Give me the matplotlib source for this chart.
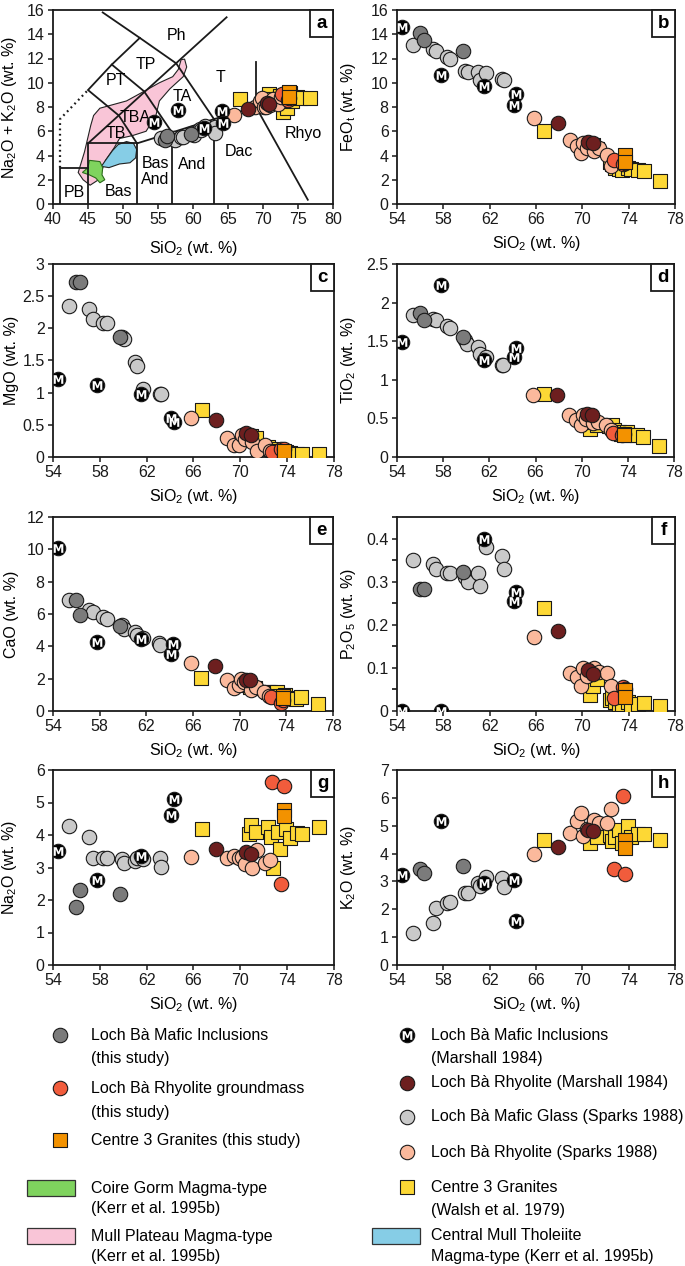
import matplotlib
matplotlib.use("Agg")
import matplotlib.pyplot as plt
from matplotlib.patches import Polygon, Rectangle
from matplotlib.ticker import FuncFormatter, MultipleLocator

plt.rcParams['font.family'] = ['Liberation Sans', 'DejaVu Sans']
plt.rcParams['mathtext.default'] = 'regular'

# ---------------- data ----------------
# Loch Ba Mafic Inclusions (this study)
lbmi_SiO2 = [56.0, 56.3, 59.7]
lbmi_FeOt = [14.1, 13.5, 12.6]
lbmi_MgO = [2.72, 2.72, 1.87]
lbmi_TiO2 = [1.87, 1.78, 1.55]
lbmi_CaO = [6.86, 5.93, 5.25]
lbmi_P2O5 = [0.283, 0.283, 0.323]
lbmi_Na2O = [1.8, 2.3, 2.2]
lbmi_K2O = [3.45, 3.3, 3.55]

# Loch Ba Rhyolite groundmass (this study)
gm_SiO2 = [72.7, 73.5, 73.7]
gm_FeOt = [3.65, 3.3, 3.4]
gm_MgO = [0.08, 0.13, 0.12]
gm_TiO2 = [0.31, 0.28, 0.30]
gm_CaO = [0.88, 0.47, 0.70]
gm_P2O5 = [0.031, 0.055, 0.050]
gm_Na2O = [5.64, 2.48, 5.50]
gm_K2O = [3.43, 6.06, 3.25]

# Centre 3 Granites (this study)
c3_SiO2 = [73.7, 73.7]
c3_FeOt = [4.05, 3.45]
c3_MgO = [0.08, 0.09]
c3_TiO2 = [0.30, 0.28]
c3_CaO = [0.90, 0.80]
c3_P2O5 = [0.048, 0.032]
c3_Na2O = [4.77, 4.60]
c3_K2O = [4.49, 4.21]

# Loch Ba Mafic Inclusions (Marshall 1984)
mm_SiO2 = [54.4, 57.8, 61.5, 64.1, 64.3]
mm_FeOt = [14.6, 10.6, 9.75, 8.2, 9.1]
mm_MgO = [1.22, 1.12, 0.98, 0.60, 0.54]
mm_TiO2 = [1.49, 2.23, 1.26, 1.30, 1.41]
mm_CaO = [10.1, 4.24, 4.45, 3.55, 4.15]
mm_P2O5 = [0.0, 0.0, 0.40, 0.255, 0.275]
mm_Na2O = [3.52, 2.62, 3.35, 4.62, 5.10]
mm_K2O = [3.23, 5.17, 2.95, 3.05, 1.58]

# Loch Ba Rhyolite (Marshall 1984)
mr_SiO2 = [67.9, 70.5, 70.9]
mr_FeOt = [6.7, 5.1, 5.0]
mr_MgO = [0.58, 0.38, 0.34]
mr_TiO2 = [0.80, 0.555, 0.54]
mr_CaO = [2.8, 1.91, 1.91]
mr_P2O5 = [0.186, 0.094, 0.085]
mr_Na2O = [3.57, 3.49, 3.42]
mr_K2O = [4.25, 4.84, 4.82]

# Loch Ba Mafic Glass (Sparks 1988)
sg_SiO2 = [55.4, 57.1, 57.4, 58.3, 58.6, 59.9, 60.1, 61.0, 61.2, 61.7, 63.1, 63.2]
sg_FeOt = [13.1, 12.8, 12.6, 12.1, 12.0, 11.0, 10.85, 10.9, 10.2, 10.8, 10.3, 10.2]
sg_MgO = [2.35, 2.30, 2.15, 2.08, 2.08, 1.86, 1.83, 1.48, 1.42, 1.05, 0.98, 0.98]
sg_TiO2 = [1.84, 1.79, 1.78, 1.70, 1.67, 1.52, 1.47, 1.42, 1.33, 1.30, 1.19, 1.19]
sg_CaO = [6.86, 6.24, 6.10, 5.83, 5.70, 5.30, 5.10, 4.90, 4.70, 4.50, 4.18, 4.10]
sg_P2O5 = [0.35, 0.34, 0.33, 0.32, 0.32, 0.31, 0.30, 0.32, 0.29, 0.38, 0.36, 0.33]
sg_Na2O = [4.28, 3.95, 3.28, 3.28, 3.28, 3.25, 3.13, 3.20, 3.30, 3.25, 3.28, 3.03]
sg_K2O = [1.16, 1.52, 2.03, 2.21, 2.27, 2.60, 2.57, 2.95, 2.83, 3.17, 3.11, 2.81]

# Loch Ba Rhyolite (Sparks 1988)
sr_SiO2 = [65.8, 68.9, 69.5, 69.9, 70.1, 70.4, 71.0, 71.4, 72.1, 72.5]
sr_FeOt = [7.1, 5.25, 4.75, 4.2, 5.0, 4.6, 4.35, 4.6, 4.05, 3.1]
sr_MgO = [0.60, 0.29, 0.18, 0.18, 0.34, 0.28, 0.23, 0.10, 0.18, 0.10]
sr_TiO2 = [0.80, 0.55, 0.48, 0.42, 0.55, 0.49, 0.44, 0.45, 0.42, 0.35]
sr_CaO = [2.94, 1.91, 1.40, 1.60, 2.00, 1.80, 1.30, 1.50, 1.20, 0.90]
sr_P2O5 = [0.171, 0.089, 0.079, 0.059, 0.100, 0.082, 0.100, 0.090, 0.089, 0.059]
sr_Na2O = [3.31, 3.28, 3.35, 3.28, 3.33, 3.10, 3.00, 3.54, 3.13, 3.23]
sr_K2O = [4.00, 4.75, 5.18, 5.44, 4.63, 4.90, 5.20, 5.10, 5.10, 5.60]

# Centre 3 Granites (Walsh et al. 1979)
w_SiO2 = [66.7, 70.7, 70.9, 71.3, 72.4, 72.6, 72.8, 73.2, 73.4, 73.9, 74.2, 74.8, 75.3, 76.7]
w_FeOt = [6.0, 4.75, 4.9, 4.5, 3.5, 3.3, 3.0, 2.9, 2.83, 2.97, 2.9, 2.78, 2.7, 1.87]
w_MgO = [0.73, 0.30, 0.32, 0.29, 0.15, 0.12, 0.10, 0.08, 0.08, 0.07, 0.06, 0.05, 0.05, 0.04]
w_TiO2 = [0.815, 0.36, 0.45, 0.42, 0.40, 0.41, 0.35, 0.32, 0.30, 0.33, 0.28, 0.28, 0.26, 0.143]
w_CaO = [2.02, 1.60, 1.50, 1.40, 1.20, 1.19, 1.10, 1.15, 0.90, 1.00, 0.80, 0.74, 0.88, 0.43]
w_P2O5 = [0.239, 0.036, 0.059, 0.075, 0.025, 0.030, 0.020, 0.017, 0.017, 0.020, 0.015, 0.017, 0.018, 0.011]
w_Na2O = [4.20, 4.03, 4.30, 4.10, 4.26, 3.93, 2.97, 4.10, 3.56, 4.20, 3.90, 4.07, 4.03, 4.26]
w_K2O = [4.49, 4.37, 4.78, 4.58, 4.67, 4.46, 4.60, 4.84, 4.39, 4.99, 4.60, 4.72, 4.70, 4.49]

# Magma-type fields on TAS (SiO2, Na2O+K2O)
mull_plateau_field = [(43.6, 2.6), (44.5, 4.3), (45.4, 6.5), (45.8, 7.3), (46.7, 7.9), (48.6, 8.2),
                      (50.5, 8.5), (52.4, 9.1), (55.2, 10.0), (57.1, 10.5), (57.9, 11.1), (58.3, 11.9),
                      (58.8, 11.95), (59.1, 11.3), (58.6, 10.5), (56.7, 9.5), (55.2, 8.5), (54.7, 7.3),
                      (53.3, 6.0), (51.4, 5.65), (49.5, 5.4), (48.7, 4.6), (47.5, 3.6), (46.5, 2.0),
                      (45.3, 1.55), (44.3, 2.0)]
central_mull_field = [(46.9, 3.1), (47.5, 3.6), (48.5, 4.4), (49.3, 4.9), (50.5, 5.15), (51.5, 5.0),
                      (51.95, 4.5), (51.8, 3.8), (51.0, 3.4), (49.5, 3.3), (48.0, 3.0)]
coire_gorm_field = [(45.2, 3.6), (46.7, 3.5), (47.1, 3.0), (47.0, 2.4), (47.4, 2.0), (46.7, 1.75),
                    (46.1, 2.15), (45.2, 2.4), (44.2, 2.6), (45.0, 3.0)]

# TAS classification boundaries
tas_solid = [
    [(41, 0), (41, 3), (45, 3)],
    [(45, 0), (45, 5), (52, 5), (52, 0)],
    [(52, 5), (57, 5.9), (57, 0)],
    [(57, 5.9), (63, 7), (63, 0)],
    [(63, 7), (69, 8)],
    [(69, 8), (76.4, 0.35)],
    [(69, 8), (69, 11.7)],
    [(45, 5), (64.8, 15.4)],
    [(52, 5), (49.4, 7.3), (45, 9.4), (48.4, 11.5), (53, 9.3), (57, 5.9)],
    [(48.4, 11.5), (52.4, 13.7), (57.6, 11.6), (63, 7)],
    [(47.1, 15.8), (52.4, 13.7)],
]
tas_dotted = [(41, 3), (41, 7), (45, 9.4)]
tas_labels = [("Ph", 57.6, 13.9), ("TP", 53.3, 11.5), ("PT", 49.0, 10.2), ("TA", 58.5, 8.9),
              ("T", 64.0, 10.45), ("TBA", 51.7, 7.15), ("TB", 49.0, 5.85), ("Bas\nAnd", 54.6, 2.7),
              ("And", 59.9, 3.25), ("Dac", 66.6, 4.3), ("Rhyo", 75.7, 5.85), ("PB", 43.1, 0.95),
              ("Bas", 49.3, 1.05)]

# ---------------- styles ----------------
S = 108
EDGE = '#1a1a1a'
series = [
    dict(name='walsh', marker='s', fc='#fdd835', z=3,
         d=dict(SiO2=w_SiO2, FeOt=w_FeOt, MgO=w_MgO, TiO2=w_TiO2, CaO=w_CaO, P2O5=w_P2O5, Na2O=w_Na2O, K2O=w_K2O)),
    dict(name='sr', marker='o', fc='#fbb99c', z=4,
         d=dict(SiO2=sr_SiO2, FeOt=sr_FeOt, MgO=sr_MgO, TiO2=sr_TiO2, CaO=sr_CaO, P2O5=sr_P2O5, Na2O=sr_Na2O, K2O=sr_K2O)),
    dict(name='sg', marker='o', fc='#c9c9c9', z=4,
         d=dict(SiO2=sg_SiO2, FeOt=sg_FeOt, MgO=sg_MgO, TiO2=sg_TiO2, CaO=sg_CaO, P2O5=sg_P2O5, Na2O=sg_Na2O, K2O=sg_K2O)),
    dict(name='mr', marker='o', fc='#6d1f1f', z=5,
         d=dict(SiO2=mr_SiO2, FeOt=mr_FeOt, MgO=mr_MgO, TiO2=mr_TiO2, CaO=mr_CaO, P2O5=mr_P2O5, Na2O=mr_Na2O, K2O=mr_K2O)),
    dict(name='mm', marker='M', fc='#000000', z=6,
         d=dict(SiO2=mm_SiO2, FeOt=mm_FeOt, MgO=mm_MgO, TiO2=mm_TiO2, CaO=mm_CaO, P2O5=mm_P2O5, Na2O=mm_Na2O, K2O=mm_K2O)),
    dict(name='lbmi', marker='o', fc='#7b7b7b', z=6.5,
         d=dict(SiO2=lbmi_SiO2, FeOt=lbmi_FeOt, MgO=lbmi_MgO, TiO2=lbmi_TiO2, CaO=lbmi_CaO, P2O5=lbmi_P2O5, Na2O=lbmi_Na2O, K2O=lbmi_K2O)),
    dict(name='gm', marker='o', fc='#f15c3c', z=7,
         d=dict(SiO2=gm_SiO2, FeOt=gm_FeOt, MgO=gm_MgO, TiO2=gm_TiO2, CaO=gm_CaO, P2O5=gm_P2O5, Na2O=gm_Na2O, K2O=gm_K2O)),
    dict(name='c3', marker='s', fc='#f39200', z=8,
         d=dict(SiO2=c3_SiO2, FeOt=c3_FeOt, MgO=c3_MgO, TiO2=c3_TiO2, CaO=c3_CaO, P2O5=c3_P2O5, Na2O=c3_Na2O, K2O=c3_K2O)),
]


def draw_points(ax, x, y, marker, fc, z, clip=True):
    if marker == 'M':
        ax.scatter(x, y, s=S, marker='o', c=fc, edgecolors=EDGE, linewidths=0.8, zorder=z, clip_on=clip)
        ax.scatter(x, y, s=48, marker='$\\mathbf{M}$', c='white', linewidths=0, zorder=z + 0.1, clip_on=clip)
    else:
        ax.scatter(x, y, s=S, marker=marker, c=fc, edgecolors=EDGE, linewidths=0.8, zorder=z, clip_on=clip)


# ---------------- figure ----------------
W, H = 685, 1266
fig = plt.figure(figsize=(W / 100, H / 100), dpi=100)


def axrect(l, t, r, b):
    return [l / W, 1 - b / H, (r - l) / W, (b - t) / H]


FS = 11.5
ax_a = fig.add_axes(axrect(53, 10, 333, 204))
panels = [
    ('b', 'FeOt', axrect(397, 10, 675, 204), 16, 2, 'FeO$_t$ (wt. %)', None),
    ('c', 'MgO', axrect(53, 264, 334, 457), 3, 0.5, 'MgO (wt. %)', None),
    ('d', 'TiO2', axrect(397, 264, 674, 457), 2.5, 0.5, 'TiO$_2$ (wt. %)', None),
    ('e', 'CaO', axrect(53, 517, 333, 711), 12, 2, 'CaO (wt. %)', None),
    ('f', 'P2O5', axrect(397, 517, 675, 711), 0.45, 0.1, 'P$_2$O$_5$ (wt. %)', 0.05),
    ('g', 'Na2O', axrect(53, 770, 334, 965), 6, 1, 'Na$_2$O (wt. %)', None),
    ('h', 'K2O', axrect(397, 770, 675, 965), 7, 1, 'K$_2$O (wt. %)', None),
]

fmt = FuncFormatter(lambda v, p: ('%g' % round(v, 3)))


def style_axes(ax, left_col, xlab_gap):
    for sp in ax.spines.values():
        sp.set_linewidth(1.3)
        sp.set_color('#1a1a1a')
    ax.tick_params(direction='out', length=3.5, width=1.1, labelsize=FS, pad=2.5, colors='#1a1a1a')
    ax.tick_params(which='minor', direction='out', length=3.5, width=1.1)
    bb = ax.get_position()
    hpx = bb.height * H
    wpx = bb.width * W
    ax.xaxis.set_label_coords(0.5, -(xlab_gap) / hpx)
    if left_col:
        ax.yaxis.set_label_coords((19 - bb.x0 * W) / wpx, 0.5)
    else:
        ax.yaxis.set_label_coords((358 - bb.x0 * W) / wpx, 0.5)


def panel_label(ax, letter):
    bb = ax.get_position()
    w = 23 / (bb.width * W)
    h = 27 / (bb.height * H)
    ax.add_patch(Rectangle((1 - w, 1 - h), w, h, transform=ax.transAxes, facecolor='white',
                           edgecolor='#1a1a1a', lw=1.3, zorder=20, clip_on=False))
    ax.text(1 - w / 2, 1 - h / 2, letter, transform=ax.transAxes, ha='center', va='center',
            fontsize=13.5, fontweight='bold', zorder=21)


# ---- panel a : TAS ----
ax = ax_a
ax.add_patch(Polygon(mull_plateau_field, closed=True, facecolor='#f9c5d7', edgecolor='#222222', lw=0.8, zorder=1))
ax.add_patch(Polygon(central_mull_field, closed=True, facecolor='#86cde6', edgecolor='#222222', lw=0.8, zorder=1.2))
ax.add_patch(Polygon(coire_gorm_field, closed=True, facecolor='#7fd35e', edgecolor='#2a6a1a', lw=0.8, zorder=1.3))
for line in tas_solid:
    xs, ys = zip(*line)
    ax.plot(xs, ys, color='#1a1a1a', lw=1.3, zorder=2, solid_joinstyle='miter')
xs, ys = zip(*tas_dotted)
ax.plot(xs, ys, color='#1a1a1a', lw=1.6, ls=(0, (0.8, 1.6)), zorder=2)
for t, x, y in tas_labels:
    ax.text(x, y, t, ha='center', va='center', fontsize=FS, zorder=2.5, linespacing=1.05)
for sr in series:
    d = sr['d']
    alk = [n + k for n, k in zip(d['Na2O'], d['K2O'])]
    draw_points(ax, d['SiO2'], alk, sr['marker'], sr['fc'], sr['z'])
ax.set_xlim(40, 80)
ax.set_ylim(0, 16)
ax.set_xticks(range(40, 81, 5))
ax.set_yticks(range(0, 17, 2))
ax.set_xlabel('SiO$_2$ (wt. %)', fontsize=FS)
ax.set_ylabel('Na$_2$O + K$_2$O (wt. %)', fontsize=FS)
style_axes(ax, True, 35)
panel_label(ax, 'a')

# ---- panels b-h ----
for letter, key, rect, ymax, ystep, ylab, minor in panels:
    ax = fig.add_axes(rect)
    for sr in series:
        d = sr['d']
        draw_points(ax, d['SiO2'], d[key], sr['marker'], sr['fc'], sr['z'])
    ax.set_xlim(54, 78)
    ax.set_ylim(0, ymax)
    ax.set_xticks(range(54, 79, 4))
    ax.yaxis.set_major_locator(MultipleLocator(ystep))
    if minor:
        ax.yaxis.set_minor_locator(MultipleLocator(minor))
    ax.yaxis.set_major_formatter(fmt)
    ax.set_xlabel('SiO$_2$ (wt. %)', fontsize=FS)
    ax.set_ylabel(ylab, fontsize=FS)
    left = rect[0] < 0.3
    style_axes(ax, left, 30)
    panel_label(ax, letter)

# ---------------- legend ----------------
lg = fig.add_axes([0, 0, 1, 1], zorder=30)
lg.set_xlim(0, W)
lg.set_ylim(H, 0)
lg.axis('off')
lg.patch.set_alpha(0)

legend_points = [
    ('o', '#7b7b7b', 60, 1035, ['Loch Bà Mafic Inclusions', '(this study)']),
    ('o', '#f15c3c', 60, 1088, ['Loch Bà Rhyolite groundmass', '(this study)']),
    ('s', '#f39200', 60, 1140, ['Centre 3 Granites (this study)']),
    ('M', '#000000', 407, 1035, ['Loch Bà Mafic Inclusions', '(Marshall 1984)']),
    ('o', '#6d1f1f', 407, 1083, ['Loch Bà Rhyolite (Marshall 1984)']),
    ('o', '#c9c9c9', 407, 1117, ['Loch Bà Mafic Glass (Sparks 1988)']),
    ('o', '#fbb99c', 407, 1152, ['Loch Bà Rhyolite (Sparks 1988)']),
    ('s', '#fdd835', 407, 1187, ['Centre 3 Granites', '(Walsh et al. 1979)']),
]
for mk, fc, x, y, lines in legend_points:
    draw_points(lg, [x], [y], mk, fc, 31, clip=False)
    for i, t in enumerate(lines):
        lg.text(x + 31 if x < 200 else x + 24, y + i * 24, t, ha='left', va='center', fontsize=FS)

legend_fields = [
    ('#7fd35e', 27, 1188, ['Coire Gorm Magma-type', '(Kerr et al. 1995b)'], 91),
    ('#f9c5d7', 27, 1236, ['Mull Plateau Magma-type', '(Kerr et al. 1995b)'], 91),
    ('#86cde6', 372, 1236, ['Central Mull Tholeiite', 'Magma-type (Kerr et al. 1995b)'], 431),
]
for fc, x, y, lines, tx in legend_fields:
    lg.add_patch(Rectangle((x, y - 8), 48, 16, facecolor=fc, edgecolor='#333333', lw=0.9))
    for i, t in enumerate(lines):
        lg.text(tx, y + i * 20, t, ha='left', va='center', fontsize=FS)

fig.savefig('out.png', dpi=100)
